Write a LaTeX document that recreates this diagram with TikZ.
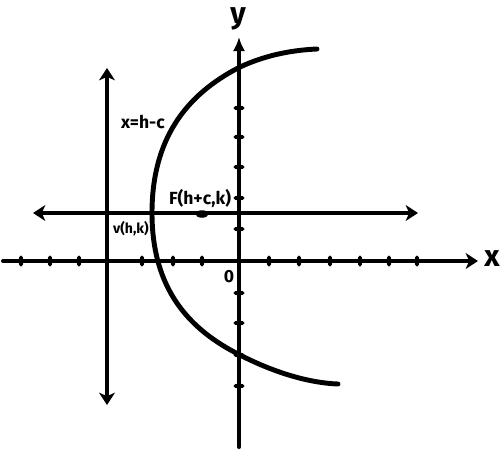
\documentclass[tikz,border=0pt]{standalone}
\usepackage{fontspec}
\setmainfont{Fira Sans}
\usetikzlibrary{arrows.meta,shapes.geometric}

\begin{document}
\begin{tikzpicture}%
        [x=0.02cm, y=-0.02cm,
        axis/.style={line width=2.3pt, line cap=round},
        curve/.style={line width=2.8pt, line cap=round},
        headA/.style={-{Stealth[length=7pt, width=9pt, inset=2pt]}},
        headB/.style={{Stealth[length=7pt, width=9pt, inset=2pt]}-{Stealth[length=7pt, width=9pt, inset=2pt]}},
        xtick/.style={ellipse, fill=black, inner sep=0pt, minimum width=0.1cm, minimum height=0.22cm},
        ytick/.style={ellipse, fill=black, inner sep=0pt, minimum width=0.22cm, minimum height=0.1cm},
        focus/.style={ellipse, fill=black, inner sep=0pt, minimum width=0.26cm, minimum height=0.15cm},
        label/.style={inner sep=0pt, font=\bfseries\fontsize{10}{10}\selectfont}]
%
\useasboundingbox (0,0) rectangle (500,451);
%%
%% Coordinates of the line ends:
%%
\coordinate (xl) at (3,261);
\coordinate (xr) at (478,261);
\coordinate (yt) at (239,37);
\coordinate (yb) at (239,447);
\coordinate (hl) at (33,213);
\coordinate (hr) at (418,213);
\coordinate (dt) at (107,68);
\coordinate (db) at (107,405);
%%
%% Points on the parabola
%%
\coordinate (pv) at (152,213);
\coordinate (pu) at (240,67);
\coordinate (pd) at (240,355);
\coordinate (pt) at (317,49);
\coordinate (pb) at (338,384);
%%
%%
%% Drawing the axes and the lines
%%
\draw[axis, headA] (xl) -- (xr);
\draw[axis, -{Latex[length=8pt, width=7pt]}] (yb) -- (yt);
\draw[axis, headB] (hl) -- (hr);
\draw[axis, headB] (db) -- (dt);
%%
%%
%% Drawing the parabola
%%
\draw[curve] (pt) .. controls (295,50) and (268,54) .. (pu)
  .. controls (185,95) and (152,140) .. (pv)
  .. controls (152,290) and (190,330) .. (pd)
  .. controls (275,373) and (310,383) .. (pb);
%%
%%
%% Drawing the ticks on the x axis
%%
\node[xtick] (xt1) at (21,261) {};
\node[xtick] (xt2) at (50,261) {};
\node[xtick] (xt3) at (79,261) {};
\node[xtick] (xt4) at (142,261) {};
\node[xtick] (xt5) at (173,261) {};
\node[xtick] (xt6) at (202,261) {};
\node[xtick] (xt7) at (269,261) {};
\node[xtick] (xt8) at (299,261) {};
\node[xtick] (xt9) at (330,261) {};
\node[xtick] (xt10) at (360,261) {};
\node[xtick] (xt11) at (389,261) {};
\node[xtick] (xt12) at (417,261) {};
%%
%%
%% Drawing the ticks on the y axis
%%
\node[ytick] (yt1) at (239,108) {};
\node[ytick] (yt2) at (239,137) {};
\node[ytick] (yt3) at (239,167) {};
\node[ytick] (yt4) at (239,198) {};
\node[ytick] (yt5) at (239,229) {};
\node[ytick] (yt6) at (239,293) {};
\node[ytick] (yt7) at (239,323) {};
\node[ytick] (yt8) at (239,355) {};
\node[ytick] (yt9) at (239,386) {};
%%
%%
%% Drawing the focus and the labels
%%
\node[focus] (F) at (202,214) {};
\node[label] (lF) at (200,198) {F(h+c,k)};
\node[label] (ldir) at (143,122) {x=h-c};
\node[label, font=\bfseries\fontsize{8}{8}\selectfont] (lV) at (131,229) {v(h,k)};
\node[label] (lO) at (229,277) {0};
\node[label, font=\bfseries\fontsize{17}{17}\selectfont] (lx) at (492,259) {x};
\node[label, font=\bfseries\fontsize{17}{17}\selectfont] (ly) at (238,19) {y};
%%
\end{tikzpicture}
\end{document}
